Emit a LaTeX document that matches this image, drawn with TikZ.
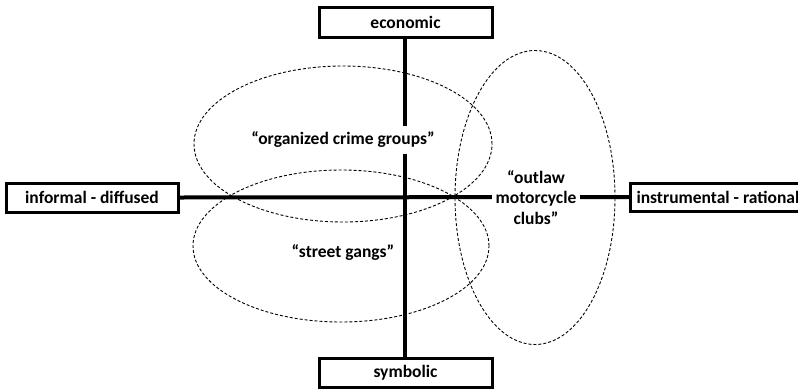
\documentclass[tikz,border=0pt]{standalone}
\usepackage{fontspec}
\setmainfont{Carlito}
\usetikzlibrary{backgrounds}
\begin{document}
\begin{tikzpicture}[x=1pt,y=-1pt,
  axisbox/.style={draw, line width=3pt, fill=white, rectangle, inner sep=0pt,
    font=\fontsize{17.5}{20.5}\selectfont\bfseries},
  axisline/.style={line width=4pt},
  group/.style={draw, dash pattern=on 3pt off 2pt, line width=0.9pt},
  grouplabel/.style={fill=white, inner sep=4pt, align=center,
    font=\fontsize{17.5}{20.8}\selectfont\bfseries}]
\useasboundingbox (0,0) rectangle (798,389);
% dimension boxes
\node[axisbox, minimum width=173pt, minimum height=30pt] (eco) at (405.5,22) {economic};
\node[axisbox, minimum width=173pt, minimum height=29pt] (sym) at (405.5,372.5) {symbolic};
\node[axisbox, minimum width=172pt, minimum height=29pt] (inf) at (92,197.5) {informal - diffused};
\node[axisbox, anchor=west, inner xsep=6pt, minimum height=28pt] (ins) at (629,197) {instrumental - rational};
% group ellipses
\draw[group] (343,144) ellipse [x radius=149pt, y radius=78pt];
\draw[group] (341,246) ellipse [x radius=148pt, y radius=76pt];
\draw[group] (535,197.5) ellipse [x radius=80pt, y radius=147pt];
% group labels
\node[grouplabel, inner ysep=6pt] (ocg) at (343,140) {“organized crime groups”};
\node[grouplabel] (sg) at (343,253) {“street gangs”};
\node[grouplabel] (omc) at (536,197.5) {“outlaw\\motorcycle\\clubs”};
% axes behind the labels
\begin{scope}[on background layer]
\draw[axisline] (eco.south -| 405,0) -- (sym.north -| 405,0);
\draw[axisline] (inf.east) -- (ins.west);
\end{scope}
\end{tikzpicture}
\end{document}
